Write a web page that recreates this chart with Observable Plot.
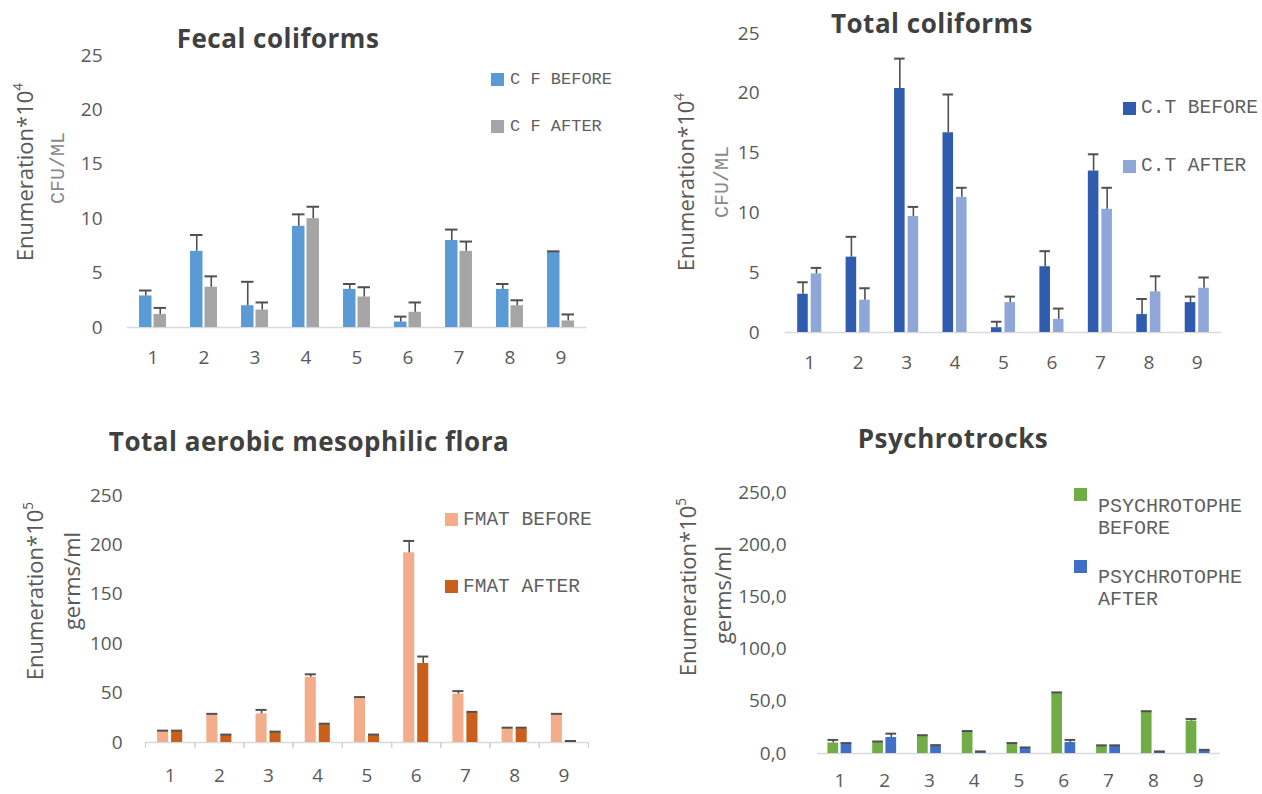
<!DOCTYPE html>
<html>
<head>
<meta charset="utf-8">
<script src="https://cdn.jsdelivr.net/npm/d3@7"></script>
<script src="https://cdn.jsdelivr.net/npm/@observablehq/plot@0.6"></script>
<style>
  html, body { margin: 0; padding: 0; background: #ffffff; }
  #chart { position: relative; width: 1262px; height: 794px; overflow: hidden; background: #fff; }
  .title { position: absolute; width: 600px; text-align: center; font-family: "Open Sans", sans-serif; font-weight: 700; font-size: 26px; letter-spacing: 0.5px; color: #404040; line-height: 30px; white-space: nowrap; }
  .ytitle { position: absolute; transform: translate(-50%, -50%) rotate(-90deg); white-space: nowrap; font-family: "Open Sans", sans-serif; font-size: 22px; color: #595959; line-height: 24px; }
  .ytitle sup { font-size: 0.62em; vertical-align: 0.7em; line-height: 0; }
  .unit { position: absolute; transform: translate(-50%, -50%) rotate(-90deg); white-space: nowrap; font-family: "Liberation Mono", monospace; font-size: 20px; color: #8a8a8a; line-height: 22px; }
  .unit2 { position: absolute; transform: translate(-50%, -50%) rotate(-90deg); white-space: nowrap; font-family: "Open Sans", sans-serif; font-size: 22px; color: #595959; line-height: 24px; }
  .sw { position: absolute; width: 13px; height: 13px; }
  .lg { position: absolute; font-family: "Liberation Mono", monospace; color: #5f5f5f; white-space: nowrap; }
  svg { position: absolute; }
</style>
</head>
<body>
<div id="chart"></div>
<script>
// ---------- data ----------
const categories = ["1", "2", "3", "4", "5", "6", "7", "8", "9"];
const seriesKeys = ["before", "after"];

// Fecal coliforms (x10^4 CFU/ML)
const fcBefore    = [2.9, 7.0, 2.0, 9.3, 3.5, 0.5, 8.0, 3.5, 6.9];
const fcBeforeErr = [3.4, 8.5, 4.2, 10.4, 4.0, 1.0, 9.0, 4.0, 7.0];
const fcAfter     = [1.2, 3.7, 1.6, 10.0, 2.8, 1.4, 7.0, 2.0, 0.6];
const fcAfterErr  = [1.8, 4.7, 2.3, 11.1, 3.7, 2.3, 7.9, 2.5, 1.2];

// Total coliforms (x10^4 CFU/ML)
const tcBefore    = [3.2, 6.3, 20.4, 16.7, 0.4, 5.5, 13.5, 1.5, 2.5];
const tcBeforeErr = [4.2, 8.0, 22.9, 19.9, 0.9, 6.8, 14.9, 2.8, 3.0];
const tcAfter     = [4.9, 2.7, 9.7, 11.3, 2.5, 1.1, 10.3, 3.4, 3.7];
const tcAfterErr  = [5.4, 3.7, 10.5, 12.1, 3.0, 2.0, 12.1, 4.7, 4.6];

// Total aerobic mesophilic flora (x10^5 germs/ml)
const fmBefore    = [11, 28, 29, 66, 45, 192, 49, 14, 28];
const fmBeforeErr = [12, 29, 33, 69, 46, 204, 52, 15, 29];
const fmAfter     = [11, 7, 10, 18, 7, 80, 30, 14, 1];
const fmAfterErr  = [12, 8, 11, 19, 8, 87, 31, 15, 1.5];

// Psychrotrophs (x10^5 germs/ml)
const psBefore    = [10, 10.5, 17, 21, 9, 58, 7.3, 40, 31];
const psBeforeErr = [13, 11.5, 17.5, 21.5, 10, 58.5, 7.8, 40.5, 33];
const psAfter     = [9.6, 15.3, 7.3, 1.6, 5.1, 10.5, 7.3, 1.6, 3.2];
const psAfterErr  = [10, 19, 8, 2, 5.8, 13, 7.8, 2, 3.5];

// axis ticks
const ticksColi = [0, 5, 10, 15, 20, 25];
const ticksColiLabels = ["0", "5", "10", "15", "20", "25"];
const ticksFmat = [0, 50, 100, 150, 200, 250];
const ticksFmatLabels = ["0", "50", "100", "150", "200", "250"];
const ticksPsy = [0, 50, 100, 150, 200, 250];
const ticksPsyLabels = ["0,0", "50,0", "100,0", "150,0", "200,0", "250,0"];

// titles / legends
const titles = ["Fecal coliforms", "Total coliforms", "Total aerobic mesophilic flora", "Psychrotrocks"];
const legendFC = ["C F BEFORE", "C F AFTER"];
const legendTC = ["C.T BEFORE", "C.T AFTER"];
const legendFM = ["FMAT BEFORE", "FMAT AFTER"];
const legendPS = [["PSYCHROTOPHE", "BEFORE"], ["PSYCHROTOPHE", "AFTER"]];

// ---------- helpers ----------
function rows(b, be, a, ae) {
  const out = [];
  categories.forEach((c, i) => {
    out.push({cat: c, series: "before", value: b[i], err: be[i]});
    out.push({cat: c, series: "after", value: a[i], err: ae[i]});
  });
  return out;
}

const chart = document.getElementById("chart");

function panel(cfg) {
  const data = rows(...cfg.values);
  const labelMap = new Map(cfg.ticks.map((t, i) => [t, cfg.tickLabels[i]]));
  const W = 631, H = 397;
  const catW = (W - cfg.mL - cfg.mR) / categories.length;
  const step = catW / (seriesKeys.length - cfg.pi + 2 * cfg.po);
  const bw = step * (1 - cfg.pi);
  const firstCenter = step * cfg.po + bw / 2;
  const plotH = H - cfg.mT - cfg.mB;
  const marks = [
    Plot.ruleY([0], {stroke: "#d9d9d9", strokeWidth: 1.6}),
    Plot.barY(data, {fx: "cat", x: "series", y: "value", fill: "series"}),
    Plot.ruleX(data, {fx: "cat", x: "series", y1: "value", y2: "err", stroke: "#505050", strokeWidth: 1.6}),
    Plot.tickY(data, {fx: "cat", x: "series", y: "err", stroke: "#505050", strokeWidth: 2})
  ];
  if (cfg.catTicks) {
    marks.push(Plot.ruleX(["before"], {x: d => d, dx: -firstCenter, insetTop: plotH, insetBottom: -6, stroke: "#d0d0d0", strokeWidth: 1.2}));
    marks.push(Plot.ruleX(["before"], {x: d => d, dx: catW - firstCenter, insetTop: plotH, insetBottom: -6, stroke: "#d0d0d0", strokeWidth: 1.2}));
  }
  const svg = Plot.plot({
    width: W, height: H,
    marginLeft: cfg.mL, marginRight: cfg.mR, marginTop: cfg.mT, marginBottom: cfg.mB,
    style: {fontFamily: "'Open Sans', sans-serif", fontSize: "19px", color: "#595959", background: "transparent", overflow: "visible"},
    fx: {domain: categories, padding: 0, round: false, axis: "bottom", label: null, tickSize: 0, tickPadding: cfg.xPad},
    x: {domain: seriesKeys, axis: null, paddingInner: cfg.pi, paddingOuter: cfg.po, round: false},
    y: {domain: [0, cfg.ymax], axis: "left", label: null, ticks: cfg.ticks, tickSize: 0, tickPadding: cfg.yPad, tickFormat: d => labelMap.get(d)},
    color: {domain: seriesKeys, range: cfg.colors},
    marks
  });
  svg.style.left = cfg.left + "px";
  svg.style.top = cfg.top + "px";
  chart.appendChild(svg);
}

function addDiv(cls, html, style) {
  const d = document.createElement("div");
  d.className = cls;
  d.innerHTML = html;
  Object.assign(d.style, style);
  chart.appendChild(d);
  return d;
}

function addTitle(text, cx, cy) {
  addDiv("title", text, {left: (cx - 300) + "px", top: (cy - 15) + "px"});
}

function addLegend(items, colors, x, swTop, textX, centers, fontSize, lineH) {
  items.forEach((it, i) => {
    addDiv("sw", "", {left: x + "px", top: swTop[i] + "px", background: colors[i]});
    const lines = Array.isArray(it) ? it : [it];
    addDiv("lg", lines.join("<br>"), {left: textX + "px", top: (centers[i] - lineH / 2) + "px", fontSize: fontSize + "px", lineHeight: lineH + "px"});
  });
}

// ---------- panels ----------
const colFC = ["#5b9bd5", "#a5a5a5"];
const colTC = ["#2f5cae", "#8ea7d8"];
const colFM = ["#f4ad8a", "#c95f1a"];
const colPS = ["#70ad47", "#3f6fc6"];

panel({left: 0, top: 0, mL: 127, mR: 45, mT: 55, mB: 70, pi: 0.14, po: 0.83, xPad: 23, yPad: 25,
  ymax: 25, ticks: ticksColi, tickLabels: ticksColiLabels, colors: colFC,
  values: [fcBefore, fcBeforeErr, fcAfter, fcAfterErr]});
panel({left: 631, top: 0, mL: 154, mR: 41, mT: 33, mB: 65, pi: 0.22, po: 0.9, xPad: 23, yPad: 26,
  ymax: 25, ticks: ticksColi, tickLabels: ticksColiLabels, colors: colTC,
  values: [tcBefore, tcBeforeErr, tcAfter, tcAfterErr]});
panel({left: 0, top: 397, mL: 145, mR: 43, mT: 98, mB: 52, pi: 0.21, po: 0.86, xPad: 26, yPad: 23,
  ymax: 250, ticks: ticksFmat, tickLabels: ticksFmatLabels, colors: colFM, catTicks: true,
  values: [fmBefore, fmBeforeErr, fmAfter, fmAfterErr]});
panel({left: 631, top: 397, mL: 186, mR: 42, mT: 95, mB: 41, pi: 0.19, po: 0.79, xPad: 20, yPad: 31,
  ymax: 250, ticks: ticksPsy, tickLabels: ticksPsyLabels, colors: colPS,
  values: [psBefore, psBeforeErr, psAfter, psAfterErr]});

// titles
addTitle(titles[0], 278, 38);
addTitle(titles[1], 932, 23);
addTitle(titles[2], 309, 441);
addTitle(titles[3], 953, 438);

// y-axis titles
addDiv("ytitle", "Enumeration*10<sup>4</sup>", {left: "24px", top: "172px"});
addDiv("unit", "CFU/ML", {left: "59px", top: "168px"});
addDiv("ytitle", "Enumeration*10<sup>4</sup>", {left: "685px", top: "182px"});
addDiv("unit", "CFU/ML", {left: "723px", top: "182px"});
addDiv("ytitle", "Enumeration*10<sup>5</sup>", {left: "34px", top: "591px"});
addDiv("unit2", "germs/ml", {left: "71px", top: "581px"});
addDiv("ytitle", "Enumeration*10<sup>5</sup>", {left: "687px", top: "587px"});
addDiv("unit2", "germs/ml", {left: "722px", top: "595px"});

// legends
addLegend(legendFC, colFC, 491, [73, 120], 510, [80, 127], 17, 20);
addLegend(legendTC, colTC, 1123, [102, 160], 1141, [108, 166], 19.5, 22);
addLegend(legendFM, colFM, 445, [513, 580], 463, [520, 587], 19.5, 22);
addLegend(legendPS, colPS, 1074, [488, 560], 1098, [507, 578], 20, 22);
</script>
</body>
</html>
